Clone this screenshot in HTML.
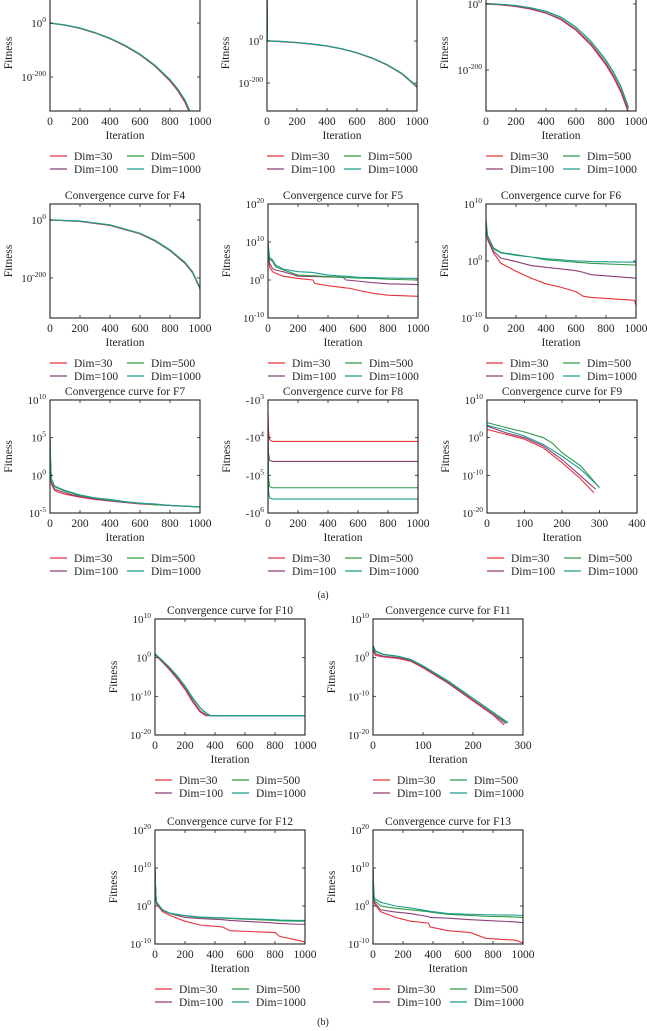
<!DOCTYPE html>
<html><head><meta charset="utf-8">
<style>
html,body{margin:0;padding:0;background:#fff;}
svg{display:block;font-family:"Liberation Serif",serif;}
</style></head>
<body>
<svg id="fig" width="647" height="1031" viewBox="0 0 647 1031" xmlns="http://www.w3.org/2000/svg"></svg>
<script>
// ---------- data (log10 of fitness) ----------
const f1Iter=[0,100,200,300,400,500,600,700,800,850,900,930];
const f1Dim30=[0,-8,-20,-37,-58,-85,-118,-160,-215,-250,-295,-332];
const f1Dim100=[0,-8,-19,-36,-57,-84,-117,-158,-212,-246,-290,-328];
const f1Dim500=[0,-7,-19,-36,-57,-83,-116,-157,-210,-244,-287,-324];
const f1Dim1000=[0,-7,-18,-35,-56,-82,-115,-156,-209,-243,-285,-322];

const f2Iter=[0,3,10,100,200,300,400,500,600,700,800,900,1000];
const f2Dim30=[240,5,0,-3,-8,-15,-24,-38,-57,-82,-114,-157,-220];
const f2Dim100=[240,5,0,-3,-8,-15,-24,-38,-57,-82,-113,-156,-219];
const f2Dim500=[240,6,1,-2,-7,-14,-23,-37,-56,-81,-112,-155,-217];
const f2Dim1000=[240,6,1,-2,-7,-14,-23,-37,-56,-80,-112,-154,-216];

const f3Iter=[0,100,200,300,400,500,600,700,800,850,900,950];
const f3Dim30=[0,-3,-8,-16,-28,-48,-80,-125,-185,-222,-268,-330];
const f3Dim100=[0,-2,-7,-15,-27,-46,-77,-121,-180,-217,-262,-325];
const f3Dim500=[1,-1,-5,-12,-23,-41,-71,-114,-172,-208,-252,-315];
const f3Dim1000=[1,-1,-5,-12,-22,-40,-70,-113,-170,-206,-250,-312];

const f4Iter=[0,200,400,600,700,800,900,950,1000];
const f4Dim30=[0,-5,-19,-48,-73,-106,-150,-182,-238];
const f4Dim100=[0,-5,-18,-47,-72,-105,-148,-180,-236];
const f4Dim500=[0,-4,-17,-46,-71,-104,-147,-179,-235];
const f4Dim1000=[0,-4,-17,-46,-70,-103,-146,-178,-234];

const f5Iter=[0,10,30,50,100,200,300,310,400,500,520,550,600,700,800,1000];
const f5Dim30=[9.8,3.5,2.2,1.8,1,0.4,0,-0.9,-1.5,-2,-2.1,-2.2,-2.7,-3.5,-4,-4.3];
const f5Dim100=[9.8,4.5,3,2.6,2.2,1,0.9,0.9,0.8,0.7,0,-0.1,-0.3,-0.7,-1,-1.2];
const f5Dim500=[9.8,5.5,4.9,3.5,2.7,1.3,1.1,1.1,0.9,0.7,0.7,0.6,0.5,0.4,0.2,0];
const f5Dim1000=[9.8,6,5.3,4,2.9,2.2,2,1.9,1.3,1,1,0.9,0.7,0.6,0.5,0.4];

const f6Iter=[0,10,50,100,200,300,400,500,600,650,700,990,1000];
const f6Dim30=[6.2,3.8,1.4,-0.4,-1.8,-3,-4,-4.6,-5.4,-6.2,-6.4,-6.9,-7.8];
const f6Dim100=[6.7,4,1.7,0.5,-0.1,-0.8,-1.1,-1.4,-1.7,-2,-2.4,-3,-3];
const f6Dim500=[7,4.5,2.3,1.5,1.1,0.7,0.2,0,-0.2,-0.3,-0.4,-0.7,-0.7];
const f6Dim1000=[7.3,4.5,2.1,1.4,1,0.7,0.4,0.2,0,0,-0.1,-0.2,-0.2];

const f7Iter=[0,5,10,30,50,100,150,200,300,400,500,600,700,800,900,1000];
const f7Dim30=[5,0,-1.2,-2,-2.2,-2.5,-2.7,-2.9,-3.2,-3.4,-3.6,-3.8,-3.9,-4,-4.1,-4.2];
const f7Dim100=[5,0.5,-1,-1.8,-2,-2.3,-2.6,-2.8,-3.1,-3.4,-3.6,-3.7,-3.9,-4,-4.1,-4.2];
const f7Dim500=[5,1,-0.6,-1.5,-1.7,-2.1,-2.4,-2.7,-3,-3.3,-3.5,-3.7,-3.9,-4,-4.1,-4.2];
const f7Dim1000=[5,1,-0.5,-1.4,-1.6,-2,-2.3,-2.6,-3,-3.2,-3.5,-3.7,-3.8,-4,-4.1,-4.2];

const f8Iter=[0,3,10,30,1000];
const f8Dim30=[-3.3,-3.8,-4.05,-4.1,-4.1];
const f8Dim100=[-3.5,-4.4,-4.6,-4.63,-4.63];
const f8Dim500=[-4,-5,-5.3,-5.33,-5.33];
const f8Dim1000=[-4.2,-5.4,-5.6,-5.63,-5.63];

const f9Iter30=[0,50,100,150,200,250,285];
const f9Dim30=[2.2,0.9,-0.4,-2.7,-6.6,-11,-14.6];
const f9Iter100=[0,50,100,150,200,250,290];
const f9Dim100=[3.1,1.3,0,-2.2,-5.8,-10.2,-13.7];
const f9Iter500=[0,50,100,150,175,200,250,300];
const f9Dim500=[4,2.7,1.5,0,-1.5,-4,-7.5,-13.3];
const f9Iter1000=[0,50,100,150,200,250,295];
const f9Dim1000=[3.3,2,0.4,-1.8,-4.9,-8.4,-12.7];

const f10Iter=[0,50,100,150,200,250,300,340,370,1000];
const f10Dim30=[0.8,-1.2,-3.3,-5.6,-8.2,-11.4,-14,-15,-15,-15];
const f10Dim100=[0.9,-1,-3,-5.3,-7.9,-11,-13.7,-14.8,-15,-15];
const f10Dim500=[1,-0.8,-2.7,-4.9,-7.4,-10.4,-13,-14.4,-15,-15];
const f10Dim1000=[1,-0.7,-2.6,-4.8,-7.3,-10.3,-12.9,-14.3,-15,-15];

const f11Iter30=[0,5,20,50,75,100,150,200,240,262];
const f11Dim30=[2,0.6,0.2,-0.2,-0.9,-2.6,-6.6,-11.2,-14.8,-17.4];
const f11Iter100=[0,5,20,50,75,100,150,200,240,265];
const f11Dim100=[2.3,1,0.4,0,-0.7,-2.4,-6.4,-11,-14.6,-17];
const f11Iter500=[0,5,20,50,75,100,150,200,240,268];
const f11Dim500=[3,1.6,0.8,0.3,-0.5,-2.2,-6.1,-10.6,-14.2,-16.9];
const f11Iter1000=[0,5,20,50,75,100,150,200,240,270];
const f11Dim1000=[3.3,1.8,0.9,0.4,-0.4,-2.1,-6,-10.5,-14.1,-16.8];

const f12Iter=[0,5,10,50,100,200,300,450,500,800,830,950,1000];
const f12Dim30=[10,3,0.5,-1.5,-2.5,-4,-5,-5.5,-6.5,-7,-8,-9,-9.5];
const f12Dim100=[10,3,1,-1.2,-2,-3,-3.3,-3.6,-3.8,-4.5,-4.6,-4.8,-4.8];
const f12Dim500=[10,3,1,-1,-2,-2.6,-3,-3.2,-3.3,-3.8,-3.9,-4,-4];
const f12Dim1000=[10,3.2,1.1,-1,-1.9,-2.5,-2.9,-3.1,-3.2,-3.6,-3.7,-3.8,-3.8];

const f13Iter=[0,5,10,50,150,250,370,380,500,650,750,950,1000];
const f13Dim30=[10,3,0.5,-1.5,-3,-4,-4.5,-5.5,-6.5,-7,-8.5,-9,-9.7];
const f13Dim100=[10,3,1,-1,-1.6,-2,-2.8,-3,-3.2,-3.6,-3.8,-4.2,-4.4];
const f13Dim500=[10,3.5,1.5,0,-0.6,-1,-1.5,-1.6,-2.2,-2.5,-2.7,-2.9,-3];
const f13Dim1000=[10,4,2,1,0,-0.5,-1.3,-1.4,-2,-2.2,-2.3,-2.4,-2.5];

const legendLabels=["Dim=30","Dim=100","Dim=500","Dim=1000"];
const seriesColors=["#e8323c","#8e3f78","#2f9a45","#1f9c8f"];

// ---------- layout ----------
const NS="http://www.w3.org/2000/svg";
const svg=document.getElementById("fig");
function mk(tag,attrs,parent){const e=document.createElementNS(NS,tag);for(const k in attrs)e.setAttribute(k,attrs[k]);(parent||svg).appendChild(e);return e;}

const plots=[
 {id:"f1",title:"Convergence curve for F1",x0:50,top:-5,bot:111,xmax:1000,xt:[0,200,400,600,800,1000],ymin:-326,ymax:104,yt:[0,-200],neg:false,
  s:[[f1Iter,f1Dim30],[f1Iter,f1Dim100],[f1Iter,f1Dim500],[f1Iter,f1Dim1000]]},
 {id:"f2",title:"Convergence curve for F2",x0:267,top:-5,bot:111,xmax:1000,xt:[0,200,400,600,800,1000],ymin:-333,ymax:219,yt:[0,-200],neg:false,
  s:[[f2Iter,f2Dim30],[f2Iter,f2Dim100],[f2Iter,f2Dim500],[f2Iter,f2Dim1000]]},
 {id:"f3",title:"Convergence curve for F3",x0:486,top:-5,bot:111,xmax:1000,xt:[0,200,400,600,800,1000],ymin:-324,ymax:27,yt:[0,-200],neg:false,
  s:[[f3Iter,f3Dim30],[f3Iter,f3Dim100],[f3Iter,f3Dim500],[f3Iter,f3Dim1000]]},
 {id:"f4",title:"Convergence curve for F4",x0:50,top:204,bot:318,xmax:1000,xt:[0,200,400,600,800,1000],ymin:-338,ymax:55,yt:[0,-200],neg:false,
  s:[[f4Iter,f4Dim30],[f4Iter,f4Dim100],[f4Iter,f4Dim500],[f4Iter,f4Dim1000]]},
 {id:"f5",title:"Convergence curve for F5",x0:268,top:204,bot:318,xmax:1000,xt:[0,200,400,600,800,1000],ymin:-10,ymax:20,yt:[20,10,0,-10],neg:false,
  s:[[f5Iter,f5Dim30],[f5Iter,f5Dim100],[f5Iter,f5Dim500],[f5Iter,f5Dim1000]]},
 {id:"f6",title:"Convergence curve for F6",x0:486,top:204,bot:318,xmax:1000,xt:[0,200,400,600,800,1000],ymin:-10,ymax:10,yt:[10,0,-10],neg:false,
  s:[[f6Iter,f6Dim30],[f6Iter,f6Dim100],[f6Iter,f6Dim500],[f6Iter,f6Dim1000]]},
 {id:"f7",title:"Convergence curve for F7",x0:50,top:400,bot:513,xmax:1000,xt:[0,200,400,600,800,1000],ymin:-5,ymax:10,yt:[10,5,0,-5],neg:false,
  s:[[f7Iter,f7Dim30],[f7Iter,f7Dim100],[f7Iter,f7Dim500],[f7Iter,f7Dim1000]]},
 {id:"f8",title:"Convergence curve for F8",x0:268,top:400,bot:513,xmax:1000,xt:[0,200,400,600,800,1000],ymin:-6,ymax:-3,yt:[-3,-4,-5,-6],neg:true,
  s:[[f8Iter,f8Dim30],[f8Iter,f8Dim100],[f8Iter,f8Dim500],[f8Iter,f8Dim1000]]},
 {id:"f9",title:"Convergence curve for F9",x0:487,top:400,bot:513,xmax:400,xt:[0,100,200,300,400],ymin:-20,ymax:10,yt:[10,0,-10,-20],neg:false,
  s:[[f9Iter30,f9Dim30],[f9Iter100,f9Dim100],[f9Iter500,f9Dim500],[f9Iter1000,f9Dim1000]]},
 {id:"f10",title:"Convergence curve for F10",x0:155,top:619,bot:735,xmax:1000,xt:[0,200,400,600,800,1000],ymin:-20,ymax:10,yt:[10,0,-10,-20],neg:false,
  s:[[f10Iter,f10Dim30],[f10Iter,f10Dim100],[f10Iter,f10Dim500],[f10Iter,f10Dim1000]]},
 {id:"f11",title:"Convergence curve for F11",x0:373,top:619,bot:735,xmax:300,xt:[0,100,200,300],ymin:-20,ymax:10,yt:[10,0,-10,-20],neg:false,
  s:[[f11Iter30,f11Dim30],[f11Iter100,f11Dim100],[f11Iter500,f11Dim500],[f11Iter1000,f11Dim1000]]},
 {id:"f12",title:"Convergence curve for F12",x0:155,top:830,bot:944,xmax:1000,xt:[0,200,400,600,800,1000],ymin:-10,ymax:20,yt:[20,10,0,-10],neg:false,
  s:[[f12Iter,f12Dim30],[f12Iter,f12Dim100],[f12Iter,f12Dim500],[f12Iter,f12Dim1000]]},
 {id:"f13",title:"Convergence curve for F13",x0:373,top:830,bot:944,xmax:1000,xt:[0,200,400,600,800,1000],ymin:-10,ymax:20,yt:[20,10,0,-10],neg:false,
  s:[[f13Iter,f13Dim30],[f13Iter,f13Dim100],[f13Iter,f13Dim500],[f13Iter,f13Dim1000]]}
];

const W=150;
plots.forEach(p=>{
  const g=mk("g",{});
  
  
  const x1=p.x0+W;
  const xs=v=>p.x0+v/p.xmax*W;
  const ys=v=>p.bot-(v-p.ymin)/(p.ymax-p.ymin)*(p.bot-p.top);
  // clip
  const cp=mk("clipPath",{id:"clip-"+p.id},g);
  mk("rect",{x:p.x0,y:p.top,width:W,height:p.bot-p.top},cp);
  // title
  const t=mk("text",{x:p.x0+W/2,y:p.top-5,"text-anchor":"middle","font-size":"11.5",fill:"#222"},g);
  t.textContent=p.title;
  
  
  // series
  p.s.forEach((sr,i)=>{
    const pts=sr[0].map((it,k)=>xs(it).toFixed(2)+","+ys(sr[1][k]).toFixed(2)).join(" ");
    const pl=mk("polyline",{points:pts,fill:"none",stroke:seriesColors[i],"stroke-width":"1.1","clip-path":"url(#clip-"+p.id+")"},g);
    
    
  });
  // box
  const bx=mk("rect",{x:p.x0,y:p.top,width:W,height:p.bot-p.top,fill:"none",stroke:"#222","stroke-width":"1.1"},g);
  
  
  // x ticks
  p.xt.forEach(v=>{
    const x=xs(v);
    mk("line",{x1:x,x2:x,y1:p.bot,y2:p.bot-3,stroke:"#222","stroke-width":"0.8"},g);
    mk("line",{x1:x,x2:x,y1:p.top,y2:p.top+3,stroke:"#222","stroke-width":"0.8"},g);
    const tl=mk("text",{x:x,y:p.bot+14,"text-anchor":"middle","font-size":"11.5",fill:"#222"},g);
    tl.textContent=v;
    
    
  });
  // y ticks
  p.yt.forEach(v=>{
    const y=ys(v);
    mk("line",{x1:p.x0,x2:p.x0+3,y1:y,y2:y,stroke:"#222","stroke-width":"0.8"},g);
    mk("line",{x1:x1,x2:x1-3,y1:y,y2:y,stroke:"#222","stroke-width":"0.8"},g);
    const tl=mk("text",{x:p.x0-4,y:y+4,"text-anchor":"end","font-size":"11",fill:"#222"},g);
    
    
    const base=mk("tspan",{},tl); base.textContent=(p.neg?"-10":"10");
    const sup=mk("tspan",{dy:"-5","font-size":"7.5"},tl); sup.textContent=(p.neg?-v:v);
  });
  // axis labels
  const xl=mk("text",{x:p.x0+W/2,y:p.bot+28,"text-anchor":"middle","font-size":"11.5",fill:"#222"},g);
  xl.textContent="Iteration";
  
  
  const ym=(p.top+p.bot)/2, yx=p.x0-38;
  const yl=mk("text",{x:yx,y:ym,"text-anchor":"middle","font-size":"11.5",fill:"#222",transform:"rotate(-90 "+yx+" "+ym+")"},g);
  yl.textContent="Fitness";
  
  
  // legend
  legendLabels.forEach((lab,i)=>{
    const col=i<2?0:1, row=i%2;
    const lx=p.x0+(col?77:0), ly=p.bot+45+row*13;
    const lg=mk("g",{},g);
    
    
    mk("line",{x1:lx,x2:lx+17,y1:ly,y2:ly,stroke:seriesColors[i],"stroke-width":"1.2"},lg);
    const tx=mk("text",{x:lx+24,y:ly+4,"font-size":"11.5",fill:"#222"},lg);
    tx.textContent=lab;
  });
});
const a=mk("text",{x:323,y:598,"text-anchor":"middle","font-size":"10",fill:"#222"});
a.textContent="(a)";


const b=mk("text",{x:323,y:1025,"text-anchor":"middle","font-size":"10",fill:"#222"});
b.textContent="(b)";


</script>
</body></html>
